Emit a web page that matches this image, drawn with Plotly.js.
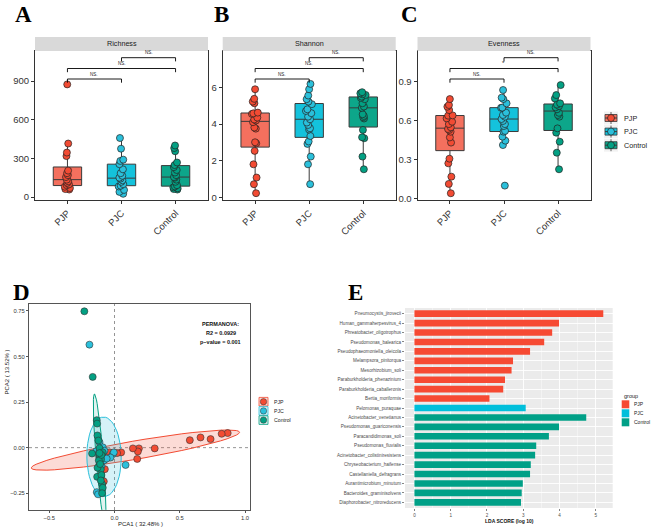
<!DOCTYPE html>
<html><head><meta charset="utf-8">
<script src="https://cdn.plot.ly/plotly-3.0.1.min.js"></script>
<style>body{margin:0;background:#fff}</style>
</head><body>
<div id="chart" style="width:669px;height:531px"></div>
<script>
// ---------------- data ----------------
const groups = ['PJP','PJC','Control'];

const richnessPJP = [58,62,70,80,92,98,110,122,135,155,170,185,205,318,345,415,874];
const richnessPJC = [25,40,55,82,88,100,118,130,143,150,165,185,215,255,280,290,375,458];
const richnessControl = [58,62,68,75,82,92,118,135,150,155,170,190,210,232,248,268,355,380,400];

const shannonPJP = [0.24,0.73,1.09,1.81,2.54,2.95,3.01,3.75,3.81,4.1,4.19,4.25,4.35,4.55,4.58,4.62,5.13,5.22,5.37,5.89];
const shannonPJC = [0.73,1.81,2.23,2.92,3.05,3.35,3.7,3.77,3.95,4.08,4.26,4.4,4.59,4.71,4.8,5.08,5.22,5.35,5.55,5.89,6.18];
const shannonControl = [1.54,2.23,3.23,3.28,3.68,4.3,4.37,4.44,4.53,4.88,4.95,5.13,5.35,5.42,5.49,5.58,5.62,5.67,5.73];

const evennessPJP = [0.039,0.111,0.167,0.27,0.306,0.43,0.47,0.514,0.527,0.535,0.548,0.573,0.591,0.617,0.638,0.64,0.681,0.707,0.72,0.766];
const evennessPJC = [0.098,0.411,0.445,0.476,0.514,0.52,0.558,0.573,0.597,0.612,0.63,0.643,0.661,0.699,0.7,0.733,0.766,0.777,0.836];
const evennessControl = [0.224,0.352,0.437,0.507,0.54,0.63,0.643,0.66,0.687,0.702,0.712,0.723,0.733,0.771,0.797,0.874];

const sigRichness = ['NS.','NS.','NS.'];   // PJP-PJC, PJP-Control, PJC-Control
const sigShannon = ['NS.','NS.','NS.'];
const sigEvenness = ['NS.','*','NS.'];

const pcaPJP_x = [0.867,0.821,0.736,0.659,0.577,0.308,0.187,0.179,0.141,0.174,0.051,-0.038,-0.074,-0.082,-0.103,-0.12,-0.10,-0.11,-0.09,-0.115,0.02];
const pcaPJP_y = [0.080,0.076,0.047,0.056,0.041,-0.004,-0.004,-0.021,-0.004,-0.062,-0.026,-0.026,-0.118,-0.185,-0.035,-0.03,-0.05,-0.02,-0.045,-0.05,-0.03];
const pcaPJC_x = [-0.192,0.085,-0.136,-0.126,-0.013,-0.005,-0.031,-0.115,-0.09,-0.077,-0.141,-0.11,-0.08,-0.12,-0.06,-0.10];
const pcaPJC_y = [0.565,-0.095,-0.244,-0.256,-0.035,-0.026,-0.054,0.03,0.002,-0.017,-0.02,-0.05,-0.07,-0.03,-0.06,-0.10];
const pcaControl_x = [-0.231,-0.167,-0.136,-0.133,-0.131,-0.123,-0.172,-0.115,-0.110,-0.115,-0.133,-0.103,-0.09,-0.105,-0.095,-0.12,-0.10,-0.13,-0.09,-0.095,-0.10,-0.11,-0.105,-0.115];
const pcaControl_y = [0.748,0.388,0.151,0.132,0.067,0.039,-0.032,-0.002,-0.047,-0.091,-0.160,-0.063,-0.026,-0.12,-0.20,-0.07,-0.04,-0.11,-0.22,-0.25,-0.15,-0.09,-0.18,-0.03];
const permanovaText = ['PERMANOVA:','R2 = 0.0929','p\u2212value = 0.001'];

const ldaTaxa = ['Pneumocystis_jirovecii','Human_gammaherpesvirus_4','Phreatobacter_oligotrophus','Pseudomonas_balearica','Pseudophaeomoniella_oleicola','Melampsora_pinitorqua','Mesorhizobium_soli','Paraburkholderia_phenazinium','Paraburkholderia_caballeronis','Bertia_moriformis','Pelomonas_puraquae','Acinetobacter_venetianus','Pseudomonas_guariconensis','Paracandidimonas_soli','Pseudomonas_fluvialis','Acinetobacter_colistiniresistens','Chryseobacterium_haifense','Castellaniella_defragrans','Aurantimicrobium_minutum','Bacteroides_graminisolvens','Diaphorobacter_nitroreducens'];
const ldaScore = [5.21,3.99,3.80,3.58,3.19,2.72,2.68,2.50,2.45,2.07,3.07,4.74,3.99,3.71,3.36,3.33,3.21,3.19,2.99,2.96,2.94];
const ldaGroup = ['PJP','PJP','PJP','PJP','PJP','PJP','PJP','PJP','PJP','PJP','PJC','Control','Control','Control','Control','Control','Control','Control','Control','Control','Control'];

// ---------------- styling ----------------
const boxFill = ['#F4705E','#14C2DC','#0DA68A'];
const pointColor = ['#F24B33','#2BC0DB','#03A083'];
const barColor = ['#F64A33','#00BFDB','#00A087'];
const ellFill = ['rgba(242,75,51,0.2)','rgba(43,192,219,0.2)','rgba(3,160,131,0.12)'];
const W = 669, H = 531;
const PX = v => v / W, PY = v => 1 - v / H;
const FONT = 'Arial, "Liberation Sans", sans-serif';
const SERIF = '"Times New Roman", "Liberation Serif", serif';

const traces = [];
const shapes = [];
const annotations = [];
const layout = {
  width: W, height: H, margin: {l:0, r:0, t:0, b:0},
  paper_bgcolor: '#fff', plot_bgcolor: 'rgba(0,0,0,0)',
  showlegend: false, boxmode: 'overlay', boxgap: 0.25, barmode: 'overlay',
  font: {family: FONT, color: '#333'},
  shapes, annotations
};

// ---------------- top three panels ----------------
const topPanels = [
  {strip:'Richness', data:[richnessPJP, richnessPJC, richnessControl], left:35, range:[-23,1133], tickvals:[0,300,600,900], fmt:'d', letter:'A', lx:23.5, sig:sigRichness},
  {strip:'Shannon', data:[shannonPJP, shannonPJC, shannonControl], left:222.7, range:[-0.13,7.97], tickvals:[0,2,4,6], fmt:'d', letter:'B', lx:221.5, sig:sigShannon},
  {strip:'Evenness', data:[evennessPJP, evennessPJC, evennessControl], left:417.5, range:[-0.013,1.137], tickvals:[0,0.3,0.6,0.9], fmt:'.1f', letter:'C', lx:409.5, sig:sigEvenness}
];
const TOP = 51, BOT = 200, PW = 173;
topPanels.forEach((p, k) => {
  const n = k + 1;
  const xa = 'xaxis' + (n === 1 ? '' : n), ya = 'yaxis' + (n === 1 ? '' : n);
  const xr = 'x' + (n === 1 ? '' : n), yr = 'y' + (n === 1 ? '' : n);
  layout[xa] = {domain:[PX(p.left), PX(p.left + PW)], anchor: yr, type:'category',
    categoryorder:'array', categoryarray: groups, range:[-0.6, 2.6],
    showline:true, mirror:true, linecolor:'#333', linewidth:1, ticks:'outside', ticklen:3, tickcolor:'#333',
    tickangle:-45, tickfont:{size:9.5, color:'#333', family:FONT}, showgrid:false, zeroline:false, fixedrange:true};
  layout[ya] = {domain:[PY(BOT), PY(TOP)], anchor: xr, range:p.range, tickvals:p.tickvals, tickformat:p.fmt,
    showline:true, mirror:true, linecolor:'#333', linewidth:1, ticks:'outside', ticklen:3, tickcolor:'#333',
    tickfont:{size:9.5, color:'#333', family:FONT}, showgrid:false, zeroline:false, fixedrange:true};
  groups.forEach((g, i) => {
    traces.push({type:'box', x: p.data[i].map(() => g), y: p.data[i], xaxis: xr, yaxis: yr,
      fillcolor: boxFill[i], line:{color:'#3a3a3a', width:1}, whiskerwidth:0,
      boxpoints:'all', jitter:0.24, pointpos:0,
      marker:{color: pointColor[i], size:7, line:{color:'#222', width:0.7}},
      hoverinfo:'skip'});
  });
  // strip
  shapes.push({type:'rect', xref:'paper', yref:'paper', x0:PX(p.left), x1:PX(p.left+PW), y0:PY(TOP), y1:PY(37),
    fillcolor:'#D9D9D9', line:{width:0}});
  annotations.push({xref:'paper', yref:'paper', x:PX(p.left+PW/2), y:PY(44), text:p.strip, showarrow:false,
    font:{size:7.2, color:'#1a1a1a'}, xanchor:'center', yanchor:'middle'});
  // significance brackets
  const pairs = [[0,1,79],[0,2,68.5],[1,2,57.7]];
  pairs.forEach((pr, j) => {
    const yb = PY(pr[2]), yt = PY(pr[2] + 3.7);
    shapes.push({type:'line', xref:xr, yref:'paper', x0:pr[0], x1:pr[1], y0:yb, y1:yb, line:{color:'#000', width:0.9}});
    shapes.push({type:'line', xref:xr, yref:'paper', x0:pr[0], x1:pr[0], y0:yb, y1:yt, line:{color:'#000', width:0.9}});
    shapes.push({type:'line', xref:xr, yref:'paper', x0:pr[1], x1:pr[1], y0:yb, y1:yt, line:{color:'#000', width:0.9}});
    annotations.push({xref:xr, yref:'paper', x:(pr[0]+pr[1])/2, y:PY(pr[2]-0.5), text:p.sig[j], showarrow:false,
      font:{size:p.sig[j]==='*'?6:4.5, color:'#222'}, xanchor:'center', yanchor:'bottom', yshift:0});
  });
  annotations.push({xref:'paper', yref:'paper', x:PX(p.lx), y:PY(14), text:'<b>'+p.letter+'</b>', showarrow:false,
    font:{size:23, family:SERIF, color:'#000'}, xanchor:'center', yanchor:'middle'});
});

// top legend (manual, ggplot-style keys)
groups.forEach((g, i) => {
  const cy = 118 + i * 13.6, x0 = 605, x1 = 617, cx = 611;
  shapes.push({type:'rect', xref:'paper', yref:'paper', x0:PX(x0-1), x1:PX(x1+1), y0:PY(cy+6.5), y1:PY(cy-6.5), fillcolor:'#F2F2F2', line:{width:0}});
  shapes.push({type:'line', xref:'paper', yref:'paper', x0:PX(cx), x1:PX(cx), y0:PY(cy+6), y1:PY(cy-6), line:{color:'#3a3a3a', width:0.8}});
  shapes.push({type:'rect', xref:'paper', yref:'paper', x0:PX(x0), x1:PX(x1), y0:PY(cy+3.5), y1:PY(cy-3.5), fillcolor:boxFill[i], line:{color:'#3a3a3a', width:0.8}});
  shapes.push({type:'line', xref:'paper', yref:'paper', x0:PX(x0), x1:PX(x1), y0:PY(cy), y1:PY(cy), line:{color:'#3a3a3a', width:1}});
  shapes.push({type:'circle', xref:'paper', yref:'paper', x0:PX(cx-3.5), x1:PX(cx+3.5), y0:PY(cy+3.5), y1:PY(cy-3.5), fillcolor:pointColor[i], line:{color:'#222', width:0.7}});
  annotations.push({xref:'paper', yref:'paper', x:PX(621.5), y:PY(cy), text:g, showarrow:false, xanchor:'left', yanchor:'middle', font:{size:7.2, color:'#222'}});
});

// ---------------- panel D: PCA ----------------
function covTrob(xs, ys, nu, maxit, tol) {
  const n = xs.length, p = 2;
  let w = new Array(n).fill(1);
  const sum = a => a.reduce((s, v) => s + v, 0);
  let lx = sum(xs) / n, ly = sum(ys) / n, X = [], Y = [];
  for (let it = 0; it < maxit; it++) {
    const w0 = w.slice();
    X = xs.map(v => v - lx); Y = ys.map(v => v - ly);
    const sw = sum(w);
    let sxx = 0, sxy = 0, syy = 0;
    for (let i = 0; i < n; i++) { sxx += w[i]*X[i]*X[i]/sw; sxy += w[i]*X[i]*Y[i]/sw; syy += w[i]*Y[i]*Y[i]/sw; }
    const det = sxx*syy - sxy*sxy;
    const Q = X.map((x, i) => (x*x*syy - 2*x*Y[i]*sxy + Y[i]*Y[i]*sxx) / det);
    w = Q.map(q => (nu + p) / (nu + q));
    const sw2 = sum(w);
    lx = sum(xs.map((v, i) => v * w[i])) / sw2; ly = sum(ys.map((v, i) => v * w[i])) / sw2;
    if (w.every((v, i) => Math.abs(v - w0[i]) < tol)) break;
  }
  let cxx = 0, cxy = 0, cyy = 0;
  for (let i = 0; i < n; i++) { cxx += w[i]*X[i]*X[i]/n; cxy += w[i]*X[i]*Y[i]/n; cyy += w[i]*Y[i]*Y[i]/n; }
  return {center:[lx, ly], cov:[cxx, cxy, cyy]};
}
function ellipse(xs, ys, level) {
  const v = covTrob(xs, ys, 5, 25, 0.01);
  const d = xs.length - 1;
  const qf = (d / 2) * (Math.pow(1 - level, -2 / d) - 1);
  const r = Math.sqrt(2 * qf);
  const a = Math.sqrt(v.cov[0]), b = v.cov[1] / a, c = Math.sqrt(v.cov[2] - b * b);
  const ex = [], ey = [];
  for (let s = 0; s <= 51; s++) {
    const t = s * 2 * Math.PI / 51, co = Math.cos(t), si = Math.sin(t);
    ex.push(v.center[0] + r * co * a);
    ey.push(v.center[1] + r * (co * b + si * c));
  }
  return [ex, ey];
}
const pcaX = [pcaPJP_x, pcaPJC_x, pcaControl_x], pcaY = [pcaPJP_y, pcaPJC_y, pcaControl_y];
const D = {l:29, r:250, t:304, b:510};
layout.xaxis4 = {domain:[PX(D.l), PX(D.r)], anchor:'y4', range:[-0.655, 1.038], tickvals:[-0.5,0,0.5,1], tickformat:'.1f',
  showline:true, mirror:true, linecolor:'#555', linewidth:1, ticks:'outside', ticklen:2, tickcolor:'#555',
  tickfont:{size:5.8, color:'#333'}, showgrid:false, zeroline:false, fixedrange:true};
layout.yaxis4 = {domain:[PY(D.b), PY(D.t)], anchor:'x4', range:[-0.342, 0.788], tickvals:[-0.25,0,0.25,0.5,0.75], tickformat:'.2f',
  showline:true, mirror:true, linecolor:'#555', linewidth:1, ticks:'outside', ticklen:2, tickcolor:'#555',
  tickfont:{size:5.8, color:'#333'}, showgrid:false, zeroline:false, fixedrange:true};
shapes.push({type:'line', xref:'x4', yref:'y4 domain', x0:0, x1:0, y0:0, y1:1, line:{color:'#666', width:0.7, dash:'dot'}, layer:'below'});
shapes.push({type:'line', xref:'x4 domain', yref:'y4', x0:0, x1:1, y0:0, y1:0, line:{color:'#666', width:0.7, dash:'dot'}, layer:'below'});
groups.forEach((g, i) => {
  const e = ellipse(pcaX[i], pcaY[i], 0.95);
  traces.push({type:'scatter', mode:'lines', x:e[0], y:e[1], xaxis:'x4', yaxis:'y4', fill:'toself',
    fillcolor: ellFill[i], line:{color: pointColor[i], width:1}, hoverinfo:'skip'});
});
groups.forEach((g, i) => {
  traces.push({type:'scatter', mode:'markers', x:pcaX[i], y:pcaY[i], xaxis:'x4', yaxis:'y4',
    marker:{color: pointColor[i], size:7, line:{color:'#333', width:0.6}}, hoverinfo:'skip'});
});
permanovaText.forEach((t, i) => {
  annotations.push({xref:'paper', yref:'paper', x:PX(220.7), y:PY(324 + i * 8.8), text:'<b>'+t+'</b>', showarrow:false,
    xanchor:'center', yanchor:'middle', font:{size:5.5, color:'#111'}});
});
annotations.push({xref:'paper', yref:'paper', x:PX(140), y:PY(523.5), text:'PCA1 ( 32.48% )', showarrow:false, xanchor:'center', yanchor:'middle', font:{size:6, color:'#222'}});
annotations.push({xref:'paper', yref:'paper', x:PX(6.5), y:PY(372), text:'PCA2 ( 13.52% )', textangle:-90, showarrow:false, xanchor:'center', yanchor:'middle', font:{size:6, color:'#222'}});
groups.forEach((g, i) => {
  const cy = 401.7 + i * 9.2, cx = 263.5;
  shapes.push({type:'rect', xref:'paper', yref:'paper', x0:PX(cx-4.5), x1:PX(cx+4.5), y0:PY(cy+4.3), y1:PY(cy-4.3), fillcolor:ellFill[i], line:{color:pointColor[i], width:0.8}});
  shapes.push({type:'circle', xref:'paper', yref:'paper', x0:PX(cx-3.2), x1:PX(cx+3.2), y0:PY(cy+3.2), y1:PY(cy-3.2), fillcolor:pointColor[i], line:{color:'#333', width:0.5}});
  annotations.push({xref:'paper', yref:'paper', x:PX(271.5), y:PY(cy), text:g, showarrow:false, xanchor:'left', yanchor:'middle', font:{size:5.2, color:'#222'}});
});
annotations.push({xref:'paper', yref:'paper', x:PX(21), y:PY(292), text:'<b>D</b>', showarrow:false, font:{size:23, family:SERIF, color:'#000'}, xanchor:'center', yanchor:'middle'});

// ---------------- panel E: LDA ----------------
const E = {l:405, r:612.7, t:308, b:508};
shapes.push({type:'rect', xref:'x5 domain', yref:'y5 domain', x0:0, x1:1, y0:0, y1:1, fillcolor:'#EBEBEB', line:{width:0}, layer:'below'});
layout.xaxis5 = {domain:[PX(E.l), PX(E.r)], anchor:'y5', range:[-0.26, 5.47], tick0:0, dtick:1,
  showline:false, ticks:'outside', ticklen:2, tickcolor:'#333', tickwidth:0.6,
  tickfont:{size:4.6, color:'#4D4D4D'}, showgrid:true, gridcolor:'#fff', gridwidth:0.9, zeroline:false,
  minor:{tick0:0, dtick:0.5, showgrid:true, gridcolor:'#fff', gridwidth:0.4, ticks:''}, fixedrange:true};
layout.yaxis5 = {domain:[PY(E.b), PY(E.t)], anchor:'x5', type:'category', categoryorder:'array', categoryarray:ldaTaxa,
  range:[20.6, -0.6], showline:false, ticks:'outside', ticklen:2, tickcolor:'#333', tickwidth:0.6,
  tickfont:{size:4.6, color:'#4D4D4D'}, showgrid:true, gridcolor:'#fff', gridwidth:0.9, zeroline:false, fixedrange:true};
groups.forEach((g, i) => {
  const idx = ldaGroup.map((v, k) => v === g ? k : -1).filter(k => k >= 0);
  traces.push({type:'bar', orientation:'h', x: idx.map(k => ldaScore[k]), y: idx.map(k => ldaTaxa[k]),
    xaxis:'x5', yaxis:'y5', width:0.7, marker:{color: barColor[i], line:{width:0}}, hoverinfo:'skip'});
});
annotations.push({xref:'paper', yref:'paper', x:PX(509), y:PY(520.5), text:'<b>LDA SCORE (log 10)</b>', showarrow:false, xanchor:'center', yanchor:'middle', font:{size:5, color:'#111'}});
annotations.push({xref:'paper', yref:'paper', x:PX(621.5), y:PY(395.7), text:'group', showarrow:false, xanchor:'left', yanchor:'middle', font:{size:5.5, color:'#222'}});
groups.forEach((g, i) => {
  const cy = 404.3 + i * 9, cx = 625.5;
  shapes.push({type:'rect', xref:'paper', yref:'paper', x0:PX(cx-3.8), x1:PX(cx+3.8), y0:PY(cy+4), y1:PY(cy-4), fillcolor:barColor[i], line:{width:0}});
  annotations.push({xref:'paper', yref:'paper', x:PX(632), y:PY(cy), text:g, showarrow:false, xanchor:'left', yanchor:'middle', font:{size:5, color:'#222'}});
});
annotations.push({xref:'paper', yref:'paper', x:PX(355), y:PY(292), text:'<b>E</b>', showarrow:false, font:{size:23, family:SERIF, color:'#000'}, xanchor:'center', yanchor:'middle'});

Plotly.newPlot('chart', traces, layout, {staticPlot:true, displayModeBar:false});
</script>
</body></html>
